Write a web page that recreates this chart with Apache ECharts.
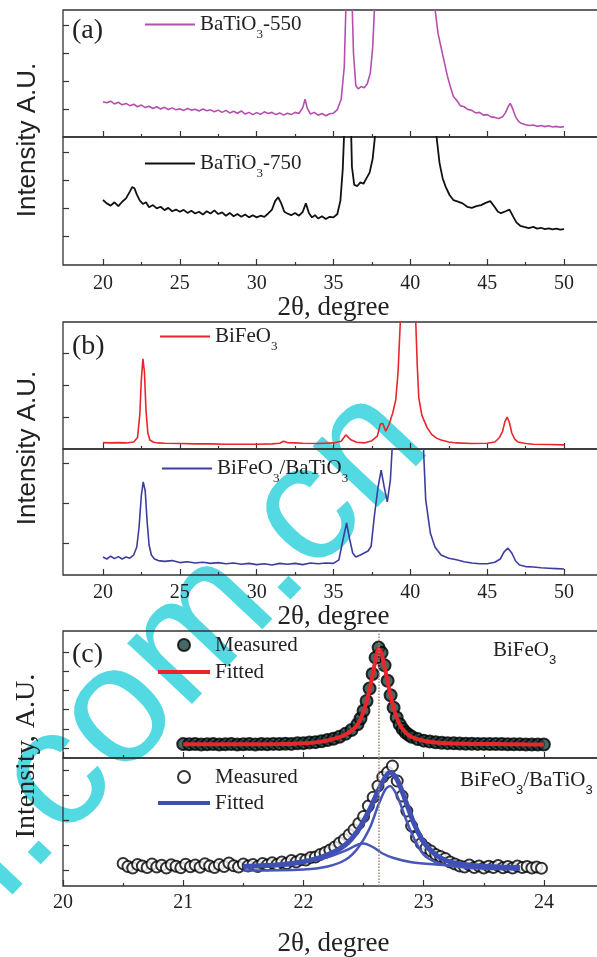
<!DOCTYPE html>
<html>
<head>
<meta charset="utf-8">
<script src="https://cdn.jsdelivr.net/npm/echarts@6.0.0/dist/echarts.min.js"></script>
<style>
  html, body { margin: 0; padding: 0; background: #fff; }
  #main { width: 597px; height: 957px; }
</style>
</head>
<body>
<div id="main"></div>
<script>
// ---- data (intensity in arbitrary units per sub-plot) ----
// (a) BaTiO3 annealed at 550 C
const bto550 = [[20.00,1.26],[20.25,1.22],[20.50,1.28],[20.75,1.18],[21.00,1.24],[21.25,1.15],[21.50,1.20],[21.75,1.12],[22.00,1.17],[22.25,1.08],[22.50,1.14],[22.75,1.05],[23.00,1.10],[23.25,1.02],[23.50,1.08],[23.75,1.00],[24.00,1.06],[24.25,0.98],[24.50,1.04],[24.75,0.97],[25.00,1.01],[25.25,0.95],[25.50,1.02],[25.75,0.96],[26.00,0.99],[26.25,0.93],[26.50,1.00],[26.75,0.94],[27.00,0.97],[27.25,0.90],[27.50,0.96],[27.75,0.88],[28.00,0.95],[28.25,0.86],[28.50,0.92],[28.75,0.85],[29.00,0.93],[29.25,0.82],[29.50,0.88],[29.75,0.80],[30.00,0.87],[30.25,0.81],[30.50,0.90],[30.75,0.84],[31.00,0.88],[31.25,0.80],[31.50,0.86],[31.75,0.78],[32.00,0.85],[32.25,0.80],[32.50,0.88],[32.75,0.84],[33.00,1.05],[33.15,1.35],[33.30,1.02],[33.50,0.82],[33.75,0.88],[34.00,0.78],[34.25,0.84],[34.50,0.76],[34.75,0.83],[35.00,0.85],[35.25,0.98],[35.50,1.35],[35.70,2.5],[35.85,5.5],[36.00,8.0],[36.15,6.0],[36.30,3.0],[36.45,1.85],[36.60,1.72],[36.80,1.80],[37.00,1.76],[37.20,1.90],[37.40,2.30],[37.55,3.20],[37.70,5.0],[37.85,8.0],[38.50,12.0],[39.50,14.0],[40.50,14.0],[41.00,9.0],[41.40,6.0],[41.60,4.6],[41.80,3.7],[42.00,3.2],[42.20,2.7],[42.40,2.2],[42.60,1.8],[42.80,1.45],[43.00,1.32],[43.25,1.12],[43.50,1.08],[43.75,0.98],[44.00,0.95],[44.25,0.86],[44.50,0.88],[44.75,0.78],[45.00,0.80],[45.25,0.72],[45.50,0.70],[45.75,0.66],[46.00,0.72],[46.20,0.88],[46.40,1.12],[46.50,1.20],[46.65,1.02],[46.85,0.72],[47.05,0.55],[47.25,0.48],[47.50,0.44],[47.75,0.41],[48.00,0.43],[48.25,0.38],[48.50,0.41],[48.75,0.37],[49.00,0.40],[49.25,0.36],[49.50,0.38],[49.75,0.35],[50.00,0.37]]

// (a) BaTiO3 annealed at 750 C
const bto750 = [[20.00,2.32],[20.25,2.20],[20.50,2.12],[20.75,2.24],[21.00,2.10],[21.25,2.26],[21.50,2.38],[21.75,2.62],[21.90,2.78],[22.05,2.74],[22.20,2.52],[22.40,2.30],[22.60,2.18],[22.80,2.24],[23.00,2.06],[23.25,2.14],[23.50,2.02],[23.75,2.08],[24.00,1.96],[24.25,2.04],[24.50,1.92],[24.75,1.98],[25.00,1.90],[25.25,1.97],[25.50,1.86],[25.75,1.94],[26.00,1.84],[26.25,1.90],[26.50,1.80],[26.75,1.92],[27.00,1.84],[27.25,1.95],[27.50,1.82],[27.75,1.88],[28.00,1.76],[28.25,1.86],[28.50,1.74],[28.75,1.82],[29.00,1.72],[29.25,1.80],[29.50,1.70],[29.75,1.78],[30.00,1.70],[30.25,1.76],[30.50,1.72],[30.75,1.84],[31.00,1.98],[31.20,2.28],[31.40,2.42],[31.60,2.20],[31.80,1.90],[32.00,1.84],[32.25,1.78],[32.50,1.86],[32.75,1.76],[33.00,1.90],[33.20,2.20],[33.40,1.86],[33.60,1.70],[33.80,1.78],[34.00,1.66],[34.25,1.74],[34.50,1.64],[34.75,1.72],[35.00,1.70],[35.25,1.82],[35.45,2.30],[35.60,3.40],[35.75,5.5],[35.90,8.0],[36.05,7.0],[36.20,3.5],[36.35,2.86],[36.55,2.82],[36.75,2.95],[36.95,2.90],[37.15,3.10],[37.35,3.30],[37.55,3.80],[37.70,4.6],[37.85,6.0],[38.20,9.0],[39.00,12.0],[40.00,13.0],[41.00,10.0],[41.50,6.0],[41.70,4.6],[41.90,3.64],[42.10,3.10],[42.30,2.79],[42.55,2.50],[42.80,2.32],[43.10,2.26],[43.40,2.20],[43.70,2.08],[44.00,2.04],[44.30,2.10],[44.60,2.14],[44.90,2.22],[45.20,2.28],[45.45,2.10],[45.70,1.90],[45.90,1.85],[46.20,1.92],[46.45,1.98],[46.70,1.72],[46.90,1.52],[47.15,1.40],[47.40,1.36],[47.70,1.32],[48.00,1.36],[48.25,1.30],[48.50,1.33],[48.75,1.28],[49.00,1.31],[49.25,1.27],[49.50,1.30],[49.75,1.26],[50.00,1.28]]

// (b) BiFeO3
const bfo = [[20.00,0.20],[20.50,0.19],[21.00,0.20],[21.50,0.19],[22.00,0.22],[22.25,0.36],[22.40,1.10],[22.50,2.20],[22.60,2.82],[22.70,2.40],[22.80,1.20],[22.92,0.50],[23.05,0.28],[23.30,0.21],[23.60,0.19],[24.00,0.18],[25.00,0.17],[26.00,0.16],[27.00,0.16],[28.00,0.15],[29.00,0.15],[30.00,0.15],[31.00,0.16],[31.50,0.18],[31.75,0.24],[32.00,0.20],[32.50,0.19],[33.00,0.18],[34.00,0.17],[35.00,0.19],[35.50,0.24],[35.80,0.44],[36.10,0.30],[36.50,0.21],[37.00,0.19],[37.50,0.26],[37.85,0.40],[38.05,0.78],[38.20,0.80],[38.40,0.56],[38.60,0.75],[38.85,1.12],[39.05,1.53],[39.20,2.40],[39.35,4.0],[39.50,6.0],[39.80,8.0],[40.00,8.0],[40.20,6.0],[40.35,4.0],[40.45,2.60],[40.55,1.60],[40.75,1.05],[41.10,0.66],[41.40,0.45],[41.70,0.34],[42.00,0.28],[42.50,0.22],[43.00,0.19],[44.00,0.17],[45.00,0.18],[45.50,0.22],[45.80,0.36],[46.00,0.55],[46.15,0.85],[46.30,1.00],[46.45,0.82],[46.60,0.50],[46.80,0.30],[47.00,0.22],[47.50,0.17],[48.00,0.15],[49.00,0.14],[50.00,0.13]]

// (b) BiFeO3/BaTiO3
const bfoBto = [[20.00,0.45],[20.25,0.40],[20.50,0.47],[20.75,0.41],[21.00,0.46],[21.25,0.40],[21.50,0.45],[21.75,0.42],[22.00,0.50],[22.20,0.70],[22.35,1.20],[22.50,2.00],[22.62,2.33],[22.75,2.10],[22.88,1.30],[23.00,0.75],[23.15,0.50],[23.35,0.40],[23.60,0.36],[24.00,0.34],[24.50,0.36],[25.00,0.31],[25.50,0.33],[26.00,0.30],[26.50,0.32],[27.00,0.29],[27.50,0.31],[28.00,0.28],[28.50,0.30],[29.00,0.27],[29.50,0.29],[30.00,0.26],[30.50,0.28],[31.00,0.25],[31.50,0.29],[32.00,0.27],[32.50,0.29],[33.00,0.26],[33.50,0.30],[34.00,0.28],[34.50,0.30],[35.00,0.29],[35.35,0.38],[35.60,0.85],[35.85,1.30],[36.05,0.90],[36.25,0.55],[36.45,0.45],[36.75,0.50],[37.00,0.55],[37.25,0.60],[37.45,0.72],[37.65,1.45],[37.90,2.20],[38.10,2.62],[38.30,2.20],[38.50,1.83],[38.70,2.37],[38.85,3.40],[39.00,5.0],[40.00,6.0],[40.70,5.0],[40.85,3.20],[41.00,1.88],[41.30,1.05],[41.60,0.70],[42.00,0.50],[42.50,0.42],[43.00,0.38],[43.50,0.33],[44.00,0.30],[44.50,0.28],[45.00,0.28],[45.50,0.32],[45.85,0.40],[46.10,0.58],[46.35,0.67],[46.60,0.55],[46.85,0.35],[47.10,0.25],[47.50,0.21],[48.00,0.20],[48.50,0.18],[49.00,0.17],[49.50,0.16],[50.00,0.15]]

// (c) BiFeO3 (012) peak: measured points and fit
const bfoMeasured = [[21.00,0.72],[21.05,0.71],[21.10,0.72],[21.15,0.70],[21.20,0.71],[21.25,0.72],[21.30,0.70],[21.35,0.71],[21.40,0.72],[21.45,0.70],[21.50,0.71],[21.55,0.72],[21.60,0.70],[21.65,0.72],[21.70,0.71],[21.75,0.73],[21.80,0.72],[21.85,0.74],[21.90,0.73],[21.95,0.76],[22.00,0.77],[22.05,0.80],[22.10,0.82],[22.15,0.87],[22.20,0.93],[22.25,1.00],[22.30,1.10],[22.35,1.25],[22.40,1.45],[22.45,1.75],[22.475,2.05],[22.50,2.45],[22.525,2.95],[22.55,3.60],[22.575,4.35],[22.60,5.20],[22.625,5.72],[22.65,5.45],[22.675,4.80],[22.70,4.00],[22.725,3.25],[22.75,2.60],[22.775,2.10],[22.80,1.75],[22.825,1.50],[22.85,1.32],[22.875,1.20],[22.90,1.10],[22.95,0.98],[23.00,0.90],[23.05,0.85],[23.10,0.81],[23.15,0.79],[23.20,0.77],[23.25,0.76],[23.30,0.75],[23.35,0.74],[23.40,0.74],[23.45,0.73],[23.50,0.73],[23.55,0.72],[23.60,0.72],[23.65,0.72],[23.70,0.71],[23.75,0.71],[23.80,0.71],[23.85,0.70],[23.90,0.70],[23.95,0.70],[24.00,0.70]]
const bfoFitted = [[21.00,0.71],[21.20,0.71],[21.40,0.71],[21.60,0.71],[21.80,0.72],[21.90,0.73],[22.00,0.76],[22.10,0.81],[22.20,0.91],[22.30,1.08],[22.35,1.22],[22.40,1.42],[22.45,1.72],[22.50,2.40],[22.55,3.55],[22.60,5.10],[22.625,5.66],[22.65,5.40],[22.70,3.95],[22.75,2.58],[22.80,1.74],[22.85,1.31],[22.90,1.09],[23.00,0.89],[23.10,0.80],[23.20,0.76],[23.40,0.73],[23.60,0.72],[23.80,0.71],[24.00,0.70]]

// (c) BiFeO3/BaTiO3 peak: measured points, total fit and the two components
const bfoBtoMeasured = [[20.50,0.90],[20.54,0.78],[20.58,0.72],[20.62,0.86],[20.66,0.80],[20.70,0.74],[20.74,0.88],[20.78,0.76],[20.82,0.83],[20.86,0.72],[20.90,0.85],[20.94,0.79],[20.98,0.73],[21.02,0.87],[21.06,0.77],[21.10,0.84],[21.14,0.75],[21.18,0.89],[21.22,0.80],[21.26,0.74],[21.30,0.86],[21.34,0.78],[21.38,0.92],[21.42,0.81],[21.46,0.76],[21.50,0.88],[21.54,0.80],[21.58,0.86],[21.62,0.78],[21.66,0.90],[21.70,0.84],[21.74,0.93],[21.78,0.86],[21.82,0.96],[21.86,0.90],[21.90,1.02],[21.94,0.96],[21.98,1.06],[22.02,1.04],[22.06,1.14],[22.10,1.16],[22.14,1.26],[22.18,1.34],[22.22,1.44],[22.26,1.56],[22.30,1.72],[22.34,1.86],[22.38,2.05],[22.42,2.25],[22.46,2.50],[22.50,2.78],[22.54,3.20],[22.58,3.55],[22.62,4.00],[22.66,4.36],[22.70,4.55],[22.74,4.80],[22.78,4.20],[22.82,3.60],[22.86,3.00],[22.90,2.40],[22.94,1.95],[22.98,1.70],[23.02,1.52],[23.06,1.40],[23.10,1.26],[23.14,1.18],[23.18,1.10],[23.22,0.96],[23.26,0.88],[23.30,0.80],[23.34,0.76],[23.38,0.84],[23.42,0.74],[23.46,0.80],[23.50,0.72],[23.54,0.79],[23.58,0.74],[23.62,0.82],[23.66,0.73],[23.70,0.78],[23.74,0.72],[23.78,0.80],[23.82,0.74],[23.86,0.78],[23.90,0.72],[23.94,0.76],[23.98,0.71]]
const bfoBtoFitted = [[21.50,0.78],[21.80,0.85],[22.00,0.97],[22.20,1.25],[22.35,1.65],[22.45,2.20],[22.55,3.05],[22.62,3.80],[22.68,4.35],[22.72,4.55],[22.78,4.25],[22.85,3.40],[22.92,2.50],[23.00,1.75],[23.10,1.25],[23.20,1.00],[23.35,0.85],[23.50,0.79],[23.65,0.76],[23.80,0.74]]
const peakMain = [[21.50,0.62],[22.00,0.66],[22.20,0.78],[22.35,1.05],[22.45,1.50],[22.55,2.30],[22.62,3.20],[22.68,3.85],[22.72,4.00],[22.78,3.60],[22.85,2.70],[22.92,1.90],[23.00,1.25],[23.10,0.95],[23.20,0.82],[23.40,0.72],[23.60,0.68],[23.80,0.66]]
const peakSide = [[21.50,0.78],[21.80,0.85],[22.00,0.95],[22.20,1.15],[22.35,1.42],[22.45,1.65],[22.50,1.70],[22.58,1.55],[22.65,1.32],[22.75,1.12],[22.90,0.95],[23.10,0.86],[23.30,0.81],[23.50,0.77],[23.80,0.72]]
const peakPosition = 22.625

// ---- axis ticks ----
const wideMajor = [20, 25, 30, 35, 40, 45, 50]
const wideMinor = [22.5, 27.5, 32.5, 37.5, 42.5, 47.5]
const zoomMajor = [20, 21, 22, 23, 24]
const zoomMinor = [20.5, 21.5, 22.5, 23.5, 24.5]
const yTicksA1 = [1, 2, 3, 4]
const yTicksA2 = [1.04, 2.04, 3.04, 4.04]
const yTicksB1 = [1, 2, 3]
const yTicksB2 = [0.8, 1.8, 2.8]
const yTicksC1 = [0.5, 1.5, 2.5, 3.5, 4.5, 5.5]
const yTicksC2 = [0.63, 1.63, 2.63, 3.63, 4.63]

const SERIF = "'Liberation Serif', 'Times New Roman', serif"
const SANS = "'Liberation Sans', Arial, sans-serif"
const INK = '#222'
const FRAME = '#333'

const panels = [
  { top: 10, height: 127, ymax: 4.536, yticks: yTicksA1, min: 17.4, max: 52.6, major: wideMajor, minor: wideMinor },
  { top: 137, height: 128, ymax: 4.571, yticks: yTicksA2, min: 17.4, max: 52.6, major: wideMajor, minor: wideMinor, label: 9, nameGap: 23 },
  { top: 322, height: 127, ymax: 3.97, yticks: yTicksB1, min: 17.4, max: 52.6, major: wideMajor, minor: wideMinor },
  { top: 449, height: 126, ymax: 3.15, yticks: yTicksB2, min: 17.4, max: 52.6, major: wideMajor, minor: wideMinor, label: 8, nameGap: 26 },
  { top: 631, height: 127, ymax: 6.58, yticks: yTicksC1, min: 20, max: 24.5, major: zoomMajor, minor: zoomMinor },
  { top: 758, height: 128, ymax: 5.12, yticks: yTicksC2, min: 20, max: 24.5, major: zoomMajor, minor: zoomMinor, label: 7, nameGap: 44 }
]

const grid = panels.map(p => ({
  left: 63, top: p.top, width: 541, height: p.height,
  show: true, borderColor: FRAME, borderWidth: 1.3, backgroundColor: 'transparent',
  outerBoundsMode: 'none'
}))

const xAxis = []
const yAxis = []
panels.forEach((p, i) => {
  xAxis.push({
    type: 'value', gridIndex: i, position: 'bottom', min: p.min, max: p.max,
    axisLine: { show: false },
    axisTick: { show: true, inside: true, length: 6, customValues: p.major, lineStyle: { color: FRAME, width: 1.2 } },
    axisLabel: p.label ? { show: true, customValues: p.major, margin: p.label, fontFamily: SERIF, fontSize: 20, color: INK } : { show: false },
    splitLine: { show: false },
    name: p.label ? '2θ, degree' : '', nameLocation: 'middle', nameGap: p.nameGap || 0,
    nameTextStyle: { fontFamily: SERIF, fontSize: 27, color: INK }
  })
  xAxis.push({
    type: 'value', gridIndex: i, position: 'bottom', min: p.min, max: p.max,
    axisLine: { show: false },
    axisTick: { show: true, inside: true, length: 3, customValues: p.minor, lineStyle: { color: FRAME, width: 1.2 } },
    axisLabel: { show: false }, splitLine: { show: false }
  })
  yAxis.push({
    type: 'value', gridIndex: i, min: 0, max: p.ymax,
    axisLine: { show: false },
    axisTick: { show: true, inside: true, length: 6, customValues: p.yticks, lineStyle: { color: FRAME, width: 1.2 } },
    axisLabel: { show: false }, splitLine: { show: false }
  })
})

const sub = { s: { fontSize: 13, lineHeight: 13, padding: [20, 0, 0, 0] } }
const withSub = name => name.replace(/O3/g, 'O{s|3}')
const thinLine = 'path://M0,0H50V2H0Z'
const thickLine = 'path://M0,0H52V4H0Z'

function legendAt(items, left, top, extra) {
  return Object.assign({
    data: items, left: left, top: top, padding: 0, itemWidth: 50, itemHeight: 12,
    formatter: withSub, selectedMode: false,
    textStyle: { fontFamily: SERIF, fontSize: 21, color: INK, lineHeight: 22, rich: sub }
  }, extra || {})
}

const dotted = { type: 'dotted', color: '#a8826f', width: 1.5 }

const option = {
  animation: false,
  backgroundColor: '#fff',
  grid: grid,
  xAxis: xAxis,
  yAxis: yAxis,
  legend: [
    legendAt([{ name: 'BaTiO3-550', icon: thinLine }], 145, 8),
    legendAt([{ name: 'BaTiO3-750', icon: thinLine }], 145, 147),
    legendAt([{ name: 'BiFeO3', icon: thinLine }], 160, 320),
    legendAt([{ name: 'BiFeO3/BaTiO3 ', icon: thinLine }], 162, 452),
    legendAt([{ name: 'Measured', icon: 'circle' }, { name: 'Fitted', icon: thickLine }], 158, 634,
      { orient: 'vertical', itemWidth: 52, itemGap: 5 }),
    legendAt([{ name: 'Measured ', icon: 'circle' }, { name: 'Fitted ', icon: thickLine }], 158, 766,
      { orient: 'vertical', itemWidth: 52, itemGap: 4 })
  ],
  graphic: [
    // site watermark printed across the scanned figure
    { type: 'text', z: -10, x: -29, y: 871, rotation: 46.7 * Math.PI / 180,
      style: { text: 'l.com.cn', fontFamily: SANS, fontSize: 168, fill: '#52d9e2', textAlign: 'left', textVerticalAlign: 'middle' } },
    { type: 'text', x: 72, y: 31, style: { text: '(a)', fontFamily: SERIF, fontSize: 28, fill: INK, textVerticalAlign: 'middle' } },
    { type: 'text', x: 72, y: 347, style: { text: '(b)', fontFamily: SERIF, fontSize: 28, fill: INK, textVerticalAlign: 'middle' } },
    { type: 'text', x: 72, y: 655, style: { text: '(c)', fontFamily: SERIF, fontSize: 28, fill: INK, textVerticalAlign: 'middle' } },
    { type: 'text', x: 28, y: 140, rotation: Math.PI / 2, style: { text: 'Intensity A.U.', fontFamily: SANS, fontSize: 26, fill: INK, textAlign: 'center', textVerticalAlign: 'middle' } },
    { type: 'text', x: 28, y: 448, rotation: Math.PI / 2, style: { text: 'Intensity A.U.', fontFamily: SANS, fontSize: 26, fill: INK, textAlign: 'center', textVerticalAlign: 'middle' } },
    { type: 'text', x: 27, y: 756, rotation: Math.PI / 2, style: { text: 'Intensity, A.U.', fontFamily: SERIF, fontSize: 28, fill: INK, textAlign: 'center', textVerticalAlign: 'middle' } },
    { type: 'text', x: 493, y: 650, style: { text: 'BiFeO{s|3}', fontFamily: SERIF, fontSize: 21, lineHeight: 22, fill: INK, rich: sub, textVerticalAlign: 'middle' } },
    { type: 'text', x: 460, y: 780, style: { text: 'BiFeO{s|3}/BaTiO{s|3}', fontFamily: SERIF, fontSize: 21, lineHeight: 22, fill: INK, rich: sub, textVerticalAlign: 'middle' } }
  ],
  series: [
    { name: 'BaTiO3-550', type: 'line', xAxisIndex: 0, yAxisIndex: 0, data: bto550, symbol: 'none',
      lineStyle: { color: '#b54fae', width: 1.6 }, itemStyle: { color: '#b54fae' } },
    { name: 'BaTiO3-750', type: 'line', xAxisIndex: 2, yAxisIndex: 1, data: bto750, symbol: 'none',
      lineStyle: { color: '#111', width: 1.8 }, itemStyle: { color: '#111' } },
    { name: 'BiFeO3', type: 'line', xAxisIndex: 4, yAxisIndex: 2, data: bfo, symbol: 'none',
      lineStyle: { color: '#e8262c', width: 1.6 }, itemStyle: { color: '#e8262c' } },
    { name: 'BiFeO3/BaTiO3 ', type: 'line', xAxisIndex: 6, yAxisIndex: 3, data: bfoBto, symbol: 'none',
      lineStyle: { color: '#3d3d9e', width: 1.6 }, itemStyle: { color: '#3d3d9e' } },
    { name: 'Measured', type: 'scatter', xAxisIndex: 8, yAxisIndex: 4, data: bfoMeasured, symbol: 'circle', symbolSize: 12,
      itemStyle: { color: '#17433f', borderColor: '#000', borderWidth: 2 }, z: 2 },
    { name: 'Fitted', type: 'line', xAxisIndex: 8, yAxisIndex: 4, data: bfoFitted, symbol: 'none', smooth: 0.3, z: 3,
      lineStyle: { color: '#e8262c', width: 4 }, itemStyle: { color: '#e8262c' },
      markLine: { silent: true, symbol: 'none', label: { show: false }, lineStyle: dotted, data: [{ xAxis: peakPosition }] } },
    { name: 'Measured ', type: 'scatter', xAxisIndex: 10, yAxisIndex: 5, data: bfoBtoMeasured, symbol: 'circle', symbolSize: 11,
      itemStyle: { color: '#fff', borderColor: '#000', borderWidth: 2 }, z: 2 },
    { name: 'peak main', type: 'line', xAxisIndex: 10, yAxisIndex: 5, data: peakMain, symbol: 'none', smooth: 0.3, z: 3,
      lineStyle: { color: '#4557b8', width: 2.5 } },
    { name: 'peak side', type: 'line', xAxisIndex: 10, yAxisIndex: 5, data: peakSide, symbol: 'none', smooth: 0.3, z: 3,
      lineStyle: { color: '#4557b8', width: 2.5 } },
    { name: 'Fitted ', type: 'line', xAxisIndex: 10, yAxisIndex: 5, data: bfoBtoFitted, symbol: 'none', smooth: 0.3, z: 4,
      lineStyle: { color: '#3f4fb3', width: 5 }, itemStyle: { color: '#3f4fb3' },
      markLine: { silent: true, symbol: 'none', label: { show: false }, lineStyle: dotted, data: [{ xAxis: peakPosition }] } }
  ]
}

const myChart = echarts.init(document.getElementById('main'), null, { renderer: 'canvas' })
myChart.setOption(option)
</script>
</body>
</html>
